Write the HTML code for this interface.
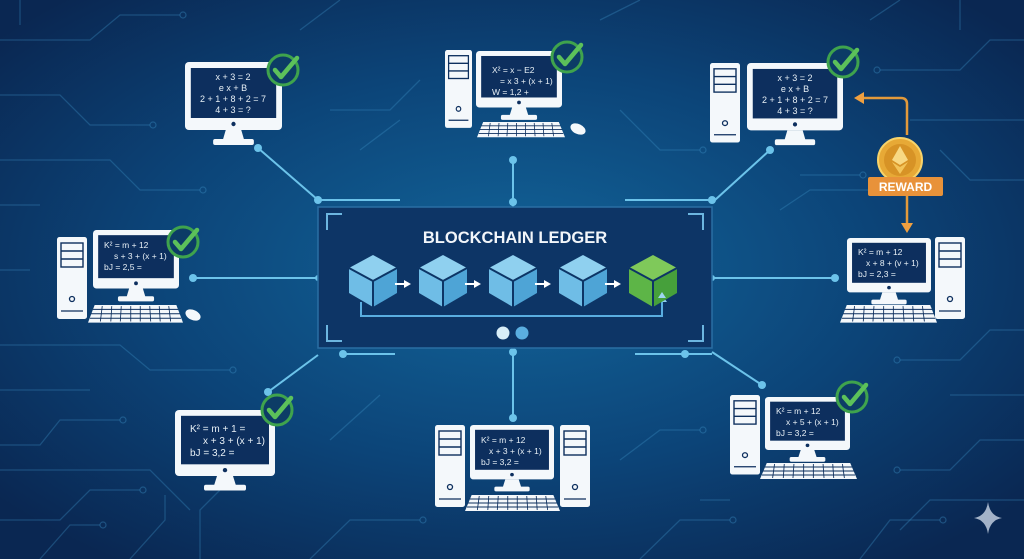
<!DOCTYPE html>
<html><head><meta charset="utf-8"><style>
html,body{margin:0;padding:0;background:#0b2a55;}
svg{display:block}
text{font-family:"Liberation Sans",sans-serif;}
</style></head><body>
<svg width="1024" height="559" viewBox="0 0 1024 559" xmlns="http://www.w3.org/2000/svg">
<defs>
<radialGradient id="bg" cx="50%" cy="48%" r="65%">
<stop offset="0" stop-color="#12659a"/><stop offset="0.55" stop-color="#0c4478"/><stop offset="1" stop-color="#0a2752"/>
</radialGradient>
<g id="mon">
<rect x="0" y="0" width="100" height="68" rx="4" fill="#f4f8fb"/>
<rect x="6" y="6" width="88" height="50" fill="#0d2f5e"/>
<circle cx="50" cy="62" r="2.2" fill="#0d2f5e"/>
<polygon points="42,68 58,68 61,78 39,78" fill="#f4f8fb"/>
<rect x="29" y="77" width="42" height="6" rx="2" fill="#f4f8fb"/>
</g>
<g id="tow">
<rect x="0" y="0" width="30" height="82" rx="2.5" fill="#f4f8fb"/>
<rect x="4" y="6" width="22" height="24" fill="none" stroke="#0d2f5e" stroke-width="1.4"/>
<line x1="4" y1="14" x2="26" y2="14" stroke="#0d2f5e" stroke-width="1.4"/>
<line x1="4" y1="22" x2="26" y2="22" stroke="#0d2f5e" stroke-width="1.4"/>
<circle cx="15" cy="62" r="2.5" fill="none" stroke="#0d2f5e" stroke-width="1.3"/>
<line x1="4" y1="74" x2="26" y2="74" stroke="#0d2f5e" stroke-width="1.3"/>
</g>
<g id="kb">
<polygon points="7,0 93,0 100,16 0,16" fill="#f4f8fb"/>
<g stroke="#0d2f5e" stroke-width="0.9">
<line x1="5" y1="4" x2="95" y2="4"/><line x1="3" y1="8" x2="97" y2="8"/><line x1="2" y1="12" x2="98" y2="12"/>
<line x1="15" y1="1" x2="13" y2="15"/><line x1="25" y1="1" x2="24" y2="15"/><line x1="35" y1="1" x2="34" y2="15"/><line x1="45" y1="1" x2="45" y2="15"/><line x1="55" y1="1" x2="55" y2="15"/><line x1="65" y1="1" x2="66" y2="15"/><line x1="75" y1="1" x2="76" y2="15"/><line x1="85" y1="1" x2="87" y2="15"/>
</g>
</g>
<g id="chk">
<circle cx="0" cy="0" r="15" fill="#0c3c66" stroke="#3fa34d" stroke-width="3"/>
<path d="M-8,0 L-2,7 L14,-12" fill="none" stroke="#5cc15a" stroke-width="4.5" stroke-linecap="round" stroke-linejoin="round"/>
</g>
<g id="cube">
<polygon points="0,-25 24,-12 0,1 -24,-12" fill="#8fd0ef"/>
<polygon points="-24,-12 0,1 0,27 -24,13" fill="#6fbde6"/>
<polygon points="24,-12 0,1 0,27 24,13" fill="#4ea4d6"/>
<path d="M-24,-12 L0,1 L24,-12 M0,1 L0,27" stroke="#0d3566" stroke-width="2" fill="none"/>
</g>
</defs>
<rect width="1024" height="559" fill="url(#bg)"/>
<!-- circuit traces -->
<g fill="none" stroke="#3d8fc4" stroke-opacity="0.35" stroke-width="1.3">
<path d="M0,40 H90 L120,15 H180"/><path d="M0,95 H60 L90,125 H150"/><path d="M0,160 H110 L140,190 H200"/><path d="M0,205 H40"/>
<path d="M0,345 H120 L150,370 H230"/><path d="M0,390 H90"/><path d="M0,445 H40 L60,420 H120"/><path d="M0,470 H150 L190,510"/><path d="M0,520 H60 L90,490 H140"/>
<path d="M40,559 L70,525 H100"/><path d="M130,559 L165,520 V495"/><path d="M200,559 V510 L220,490"/><path d="M310,559 L350,520 H420"/><path d="M330,440 L380,395"/>
<path d="M300,30 L340,0"/><path d="M330,110 H390 L420,80"/><path d="M360,150 L400,120"/><path d="M620,110 L660,150 H700"/><path d="M600,20 L640,0"/>
<path d="M870,20 L900,0"/><path d="M880,70 H960 L990,40 H1024"/><path d="M910,120 H1024"/><path d="M940,150 L970,180 H1024"/><path d="M800,175 H860"/><path d="M780,210 L810,190 H870"/>
<path d="M1024,330 H990 L960,360 H900"/><path d="M1024,395 H950"/><path d="M1024,440 H980 L950,470 H900"/><path d="M1024,500 H930 L900,530"/><path d="M860,559 L890,520 H940"/><path d="M640,559 L680,520 H730"/><path d="M620,460 L660,430 H700"/><path d="M700,500 H730"/>
<path d="M960,0 V30"/><path d="M20,0 V25"/><path d="M0,270 H30"/>
</g>
<g fill="none" stroke="#3d8fc4" stroke-opacity="0.4" stroke-width="1.2">
<circle cx="183" cy="15" r="3"/><circle cx="153" cy="125" r="3"/><circle cx="203" cy="190" r="3"/><circle cx="233" cy="370" r="3"/><circle cx="123" cy="420" r="3"/><circle cx="143" cy="490" r="3"/><circle cx="103" cy="525" r="3"/><circle cx="423" cy="520" r="3"/><circle cx="733" cy="520" r="3"/><circle cx="703" cy="430" r="3"/><circle cx="943" cy="520" r="3"/><circle cx="897" cy="470" r="3"/><circle cx="897" cy="360" r="3"/><circle cx="703" cy="150" r="3"/><circle cx="863" cy="175" r="3"/><circle cx="873" cy="190" r="3"/><circle cx="877" cy="70" r="3"/>
</g>
<!-- connectors -->
<g stroke="#6cc3ea" stroke-width="2" fill="none">
<line x1="513" y1="160" x2="513" y2="207"/><line x1="513" y1="348" x2="513" y2="418"/>
<line x1="193" y1="278" x2="318" y2="278"/><line x1="712" y1="278" x2="835" y2="278"/>
<path d="M258,148 L318,200"/><path d="M770,150 L715,200"/>
<path d="M318,355 L268,392"/><path d="M712,352 L762,385"/>
<path d="M318,200 H400"/><path d="M625,200 H712"/><path d="M340,354 H395"/><path d="M635,354 H712"/>
</g>
<g fill="#6cc3ea">
<circle cx="513" cy="160" r="4"/><circle cx="513" cy="418" r="4"/><circle cx="513" cy="352" r="4"/><circle cx="513" cy="202" r="4"/>
<circle cx="193" cy="278" r="4"/><circle cx="835" cy="278" r="4"/><circle cx="258" cy="148" r="4"/><circle cx="770" cy="150" r="4"/>
<circle cx="268" cy="392" r="4"/><circle cx="762" cy="385" r="4"/><circle cx="318" cy="200" r="4"/><circle cx="712" cy="200" r="4"/><circle cx="712" cy="278" r="3"/><circle cx="318" cy="278" r="3"/><circle cx="343" cy="354" r="4"/><circle cx="685" cy="354" r="4"/>
</g>
<!-- panel -->
<rect x="318" y="207" width="394" height="141" fill="#0d3566" stroke="#2a6ea3" stroke-width="1.5"/>
<g stroke="#6cb6e0" stroke-width="2" fill="none">
<path d="M327,230 V214 H342"/><path d="M703,230 V214 H688"/><path d="M327,325 V341 H342"/><path d="M703,325 V341 H688"/>
</g>
<text x="515" y="243" text-anchor="middle" font-size="16.5" font-weight="bold" fill="#f2f6fa">BLOCKCHAIN LEDGER</text>
<path d="M361,302 V316 H662 V300" stroke="#5aaee0" stroke-width="2" fill="none"/>
<polygon points="657,302 662,295 667,302" fill="#8fd0ef"/>
<use href="#cube" x="373" y="280"/><use href="#cube" x="443" y="280"/><use href="#cube" x="513" y="280"/><use href="#cube" x="583" y="280"/>
<g transform="translate(653,280)">
<polygon points="0,-25 24,-12 0,1 -24,-12" fill="#7fc95a"/>
<polygon points="-24,-12 0,1 0,27 -24,13" fill="#5db547"/>
<polygon points="24,-12 0,1 0,27 24,13" fill="#46a03b"/>
<path d="M-24,-12 L0,1 L24,-12 M0,1 L0,27" stroke="#0d3566" stroke-width="2" fill="none"/>
</g>
<polygon points="658,298 662,292 666,298" fill="#9fd6ef"/>
<g fill="#ffffff">
<path d="M395,284 H405" stroke="#fff" stroke-width="2"/><polygon points="404,280 411,284 404,288"/>
<path d="M465,284 H475" stroke="#fff" stroke-width="2"/><polygon points="474,280 481,284 474,288"/>
<path d="M535,284 H545" stroke="#fff" stroke-width="2"/><polygon points="544,280 551,284 544,288"/>
<path d="M605,284 H615" stroke="#fff" stroke-width="2"/><polygon points="614,280 621,284 614,288"/>
</g>
<circle cx="503" cy="333" r="6.5" fill="#d8eef8"/><circle cx="522" cy="333" r="6.5" fill="#5aaee0"/>

<!-- 1 top-left -->
<use href="#mon" transform="translate(185,62) scale(0.97,1)"/>
<g font-size="9" fill="#e8f0f6" text-anchor="middle"><text x="233" y="80">x + 3 = 2</text><text x="233" y="91">e x + B</text><text x="233" y="102">2 + 1 + 8 + 2 = 7</text><text x="233" y="113">4 + 3 = ?</text></g>
<use href="#chk" x="283" y="70"/>
<!-- 2 top-center -->
<use href="#tow" transform="translate(445,50) scale(0.9,0.95)"/>
<use href="#mon" transform="translate(476,51) scale(0.86,0.83)"/>
<g font-size="8.5" fill="#e8f0f6"><text x="492" y="73">X² = x − E2</text><text x="500" y="84">= x 3 + (x + 1)</text><text x="492" y="95">W = 1,2 +</text></g>
<use href="#kb" transform="translate(477,122) scale(0.88,0.95)"/>
<ellipse cx="578" cy="129" rx="8" ry="5" fill="#f4f8fb" transform="rotate(25 578 129)"/>
<use href="#chk" x="567" y="57"/>
<!-- 3 top-right -->
<use href="#tow" transform="translate(710,63) scale(1,0.97)"/>
<use href="#mon" transform="translate(747,63) scale(0.96,0.99)"/>
<g font-size="9" fill="#e8f0f6" text-anchor="middle"><text x="795" y="81">x + 3 = 2</text><text x="795" y="92">e x + B</text><text x="795" y="103">2 + 1 + 8 + 2 = 7</text><text x="795" y="114">4 + 3 = ?</text></g>
<use href="#chk" x="843" y="62"/>
<!-- reward -->
<path d="M907,135 V104 Q907,98 901,98 H862" stroke="#e39a3b" stroke-width="2.5" fill="none"/>
<polygon points="854,98 864,92 864,104" fill="#f0a040"/>
<circle cx="900" cy="160" r="22" fill="#e7a936" stroke="#f7d36a" stroke-width="2"/>
<circle cx="900" cy="160" r="16" fill="#d79326"/>
<polygon points="900,146 908,160 900,165 892,160" fill="#f8d883"/>
<polygon points="900,167 908,162 900,174 892,162" fill="#f3c45a"/>
<rect x="868" y="177" width="75" height="19" rx="2" fill="#e8923a"/>
<text x="905.5" y="191" text-anchor="middle" font-size="12" font-weight="bold" fill="#fff">REWARD</text>
<line x1="907" y1="196" x2="907" y2="224" stroke="#e39a3b" stroke-width="2.5"/>
<polygon points="901,223 913,223 907,233" fill="#f0a040"/>
<!-- 4 middle-left -->
<use href="#tow" transform="translate(57,237)"/>
<use href="#mon" transform="translate(93,230) scale(0.86,0.86)"/>
<g font-size="8.5" fill="#e8f0f6"><text x="104" y="248">K² = m + 12</text><text x="114" y="259">s + 3 + (x + 1)</text><text x="104" y="270">bJ = 2,5 =</text></g>
<use href="#kb" transform="translate(88,305) scale(0.95,1.1)"/>
<ellipse cx="193" cy="315" rx="8" ry="5" fill="#f4f8fb" transform="rotate(25 193 315)"/>
<use href="#chk" x="183" y="242"/>
<!-- 5 middle-right -->
<use href="#mon" transform="translate(847,238) scale(0.84,0.8)"/>
<g font-size="8.5" fill="#e8f0f6"><text x="858" y="255">K² = m + 12</text><text x="866" y="266">x + 8 + (v + 1)</text><text x="858" y="277">bJ = 2,3 =</text></g>
<use href="#tow" transform="translate(935,237)"/>
<use href="#kb" transform="translate(840,305) scale(0.97,1.1)"/>
<!-- 6 bottom-left -->
<use href="#mon" transform="translate(175,410) scale(1,0.97)"/>
<g font-size="10" fill="#e8f0f6"><text x="190" y="432">K² = m + 1 =</text><text x="203" y="444">x + 3 + (x + 1)</text><text x="190" y="456">bJ = 3,2 =</text></g>
<use href="#chk" x="277" y="410"/>
<!-- 7 bottom-center -->
<use href="#tow" transform="translate(435,425)"/>
<use href="#mon" transform="translate(470,425) scale(0.84,0.8)"/>
<g font-size="8.5" fill="#e8f0f6"><text x="481" y="443">K² = m + 12</text><text x="489" y="454">x + 3 + (x + 1)</text><text x="481" y="465">bJ = 3,2 =</text></g>
<use href="#kb" transform="translate(465,495) scale(0.95,1)"/>
<use href="#tow" transform="translate(560,425)"/>
<!-- 8 bottom-right -->
<use href="#tow" transform="translate(730,395) scale(1,0.97)"/>
<use href="#mon" transform="translate(765,397) scale(0.85,0.78)"/>
<g font-size="8.5" fill="#e8f0f6"><text x="776" y="414">K² = m + 12</text><text x="786" y="425">x + 5 + (x + 1)</text><text x="776" y="436">bJ = 3,2 =</text></g>
<use href="#kb" transform="translate(760,463) scale(0.97,1)"/>
<use href="#chk" x="852" y="397"/>
<!-- sparkle -->
<path d="M988,502 Q990,516 1002,518 Q990,520 988,534 Q986,520 974,518 Q986,516 988,502Z" fill="#c9d6e6" opacity="0.8"/>
</svg>
</body></html>
